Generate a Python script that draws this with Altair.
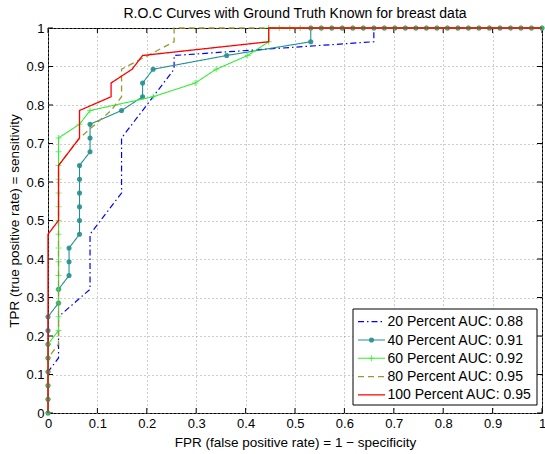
import altair as alt
import pandas as pd

FONT = "Liberation Sans"

ticks = [0, 0.1, 0.2, 0.3, 0.4, 0.5, 0.6, 0.7, 0.8, 0.9, 1]

names = ["20 Percent", "40 Percent", "60 Percent", "80 Percent", "100 Percent"]
auc = [0.88, 0.91, 0.92, 0.95, 0.95]
colors = ["#0000ff", "#238f8f", "#33ee33", "#999933", "#ff0000"]

# 20 percent (blue, dash-dot)
fpr20 = [0, 0, 0.0213, 0.0213, 0.0851, 0.0851, 0.1489, 0.1489, 0.2553, 0.2553, 0.6596, 0.6596, 1]
tpr20 = [0, 0.1071, 0.1429, 0.25, 0.3214, 0.4643, 0.5714, 0.7143, 0.8929, 0.9286, 0.9643, 1, 1]

# 40 percent (teal, markers)
fpr40 = [0, 0, 0, 0, 0, 0, 0, 0,
         0.0213, 0.0213,
         0.0426, 0.0426, 0.0426,
         0.0638, 0.0638, 0.0638, 0.0638, 0.0638, 0.0638,
         0.0851, 0.0851, 0.0851,
         0.1489, 0.1915, 0.1915, 0.2128, 0.3617, 0.5319,
         0.5319, 0.5532, 0.5745, 0.5957, 0.6170, 0.6383, 0.6596, 0.6809, 0.7021,
         0.7234, 0.7447, 0.7660, 0.7872, 0.8085, 0.8298, 0.8511, 0.8723, 0.8936,
         0.9149, 0.9362, 0.9574, 0.9787, 1]
tpr40 = [0, 0.0357, 0.0714, 0.1071, 0.1429, 0.1786, 0.2143, 0.25,
         0.2857, 0.3214,
         0.3571, 0.3929, 0.4286,
         0.4643, 0.5, 0.5357, 0.5714, 0.6071, 0.6429,
         0.6786, 0.7143, 0.75,
         0.7857, 0.8214, 0.8571, 0.8929, 0.9286, 0.9643,
         1, 1, 1, 1, 1, 1, 1, 1, 1,
         1, 1, 1, 1, 1, 1, 1, 1, 1,
         1, 1, 1, 1, 1]

# 60 percent (green, plus markers)
fpr60 = [0, 0, 0, 0, 0, 0,
         0.0213, 0.0213, 0.0213, 0.0213, 0.0213, 0.0213, 0.0213, 0.0213,
         0.0213, 0.0213, 0.0213, 0.0213, 0.0213, 0.0213, 0.0213,
         0.0638, 0.0851, 0.2128, 0.2979, 0.3404, 0.4043, 0.4468,
         0.4468, 0.4681, 0.4894, 0.5106, 0.5319, 0.5532, 0.5745, 0.5957, 0.6170,
         0.6383, 0.6596, 0.6809, 0.7021, 0.7234, 0.7447, 0.7660, 0.7872, 0.8085,
         0.8298, 0.8511, 0.8723, 0.8936, 0.9149, 0.9362, 0.9574, 0.9787, 1]
tpr60 = [0, 0.0357, 0.0714, 0.1071, 0.1429, 0.1786,
         0.2143, 0.25, 0.2857, 0.3214, 0.3571, 0.3929, 0.4286, 0.4643,
         0.5, 0.5357, 0.5714, 0.6071, 0.6429, 0.6786, 0.7143,
         0.75, 0.7857, 0.8214, 0.8571, 0.8929, 0.9286, 0.9643,
         1, 1, 1, 1, 1, 1, 1, 1, 1,
         1, 1, 1, 1, 1, 1, 1, 1, 1,
         1, 1, 1, 1, 1, 1, 1, 1, 1]

# 80 percent (olive, dashed)
fpr80 = [0, 0, 0.0213, 0.0213, 0.0426, 0.0638, 0.1277, 0.1489, 0.1489, 0.2553, 0.2553, 1]
tpr80 = [0, 0.1429, 0.1786, 0.6429, 0.6786, 0.7143, 0.7857, 0.8214, 0.8929, 0.9643, 1, 1]

# 100 percent (red, solid)
fpr100 = [0, 0, 0.0213, 0.0213, 0.0638, 0.0638, 0.1277, 0.1277, 0.1702, 0.1915, 0.4468, 0.4468, 1]
tpr100 = [0, 0.4643, 0.5, 0.6429, 0.7143, 0.7857, 0.8214, 0.8571, 0.8929, 0.9286, 0.9643, 1, 1]

series_x = [fpr20, fpr40, fpr60, fpr80, fpr100]
series_y = [tpr20, tpr40, tpr60, tpr80, tpr100]
dashes = [[6, 3, 1.5, 3], [1, 0], [1, 0], [6, 4], [1, 0]]
widths = [1.2, 1.1, 1.1, 1.3, 1.3]
markers = [None, "dot", "plus", None, None]

W, H = 494, 385
PLUS = "M-1,0L1,0M0,-1L0,1"
DOT_SIZE = 26
PLUS_SIZE = 36

xscale = alt.Scale(domain=[0, 1], nice=False, zero=False)
yscale = alt.Scale(domain=[0, 1], nice=False, zero=False)

common = dict(values=ticks, format="~g", grid=True, ticks=False, domain=False,
              labelFont=FONT, labelFontSize=13, labelColor="black",
              labelOverlap=False, labelFlush=False, labelBound=False,
              titleFont=FONT, titleFontSize=13.5, titleFontWeight="normal",
              titleColor="black",
              gridColor="#9a9a9a", gridDash=[1, 3], gridWidth=1)
xaxis = alt.Axis(title="FPR (false positive rate) = 1 \u2212 specificity",
                 labelPadding=4, titlePadding=5, **common)
yaxis = alt.Axis(title="TPR (true positive rate) = sensitivity",
                 labelPadding=4, titlePadding=4, **common)


def X(field):
    return alt.X(field, scale=xscale, axis=xaxis)


def Y(field):
    return alt.Y(field, scale=yscale, axis=yaxis)


tick_df = pd.DataFrame({"v": ticks})

base_axes = alt.Chart(tick_df).mark_rule(opacity=0).encode(x=X("v:Q"), y=Y("v:Q"))

layers = [base_axes]

# inward ticks (MATLAB style)
tx_bottom = alt.Chart(tick_df).mark_rule(color="black", strokeWidth=1).encode(
    x=X("v:Q"), y=alt.value(H), y2=alt.value(H - 5))
tx_top = alt.Chart(tick_df).mark_rule(color="black", strokeWidth=1).encode(
    x=X("v:Q"), y=alt.value(0), y2=alt.value(5))
ty_left = alt.Chart(tick_df).mark_rule(color="black", strokeWidth=1).encode(
    y=Y("v:Q"), x=alt.value(0), x2=alt.value(5))
ty_right = alt.Chart(tick_df).mark_rule(color="black", strokeWidth=1).encode(
    y=Y("v:Q"), x=alt.value(W), x2=alt.value(W - 5))
layers += [tx_bottom, tx_top, ty_left, ty_right]

for k in range(5):
    df = pd.DataFrame({"fpr": series_x[k], "tpr": series_y[k],
                       "i": list(range(len(series_x[k])))})
    line = alt.Chart(df).mark_line(color=colors[k], strokeWidth=widths[k],
                                   strokeDash=dashes[k], clip=False).encode(
        x=X("fpr:Q"), y=Y("tpr:Q"), order=alt.Order("i:Q"))
    layers.append(line)
    if markers[k] == "dot":
        pts = alt.Chart(df).mark_point(shape="circle", filled=True, size=DOT_SIZE,
                                       color=colors[k], opacity=0.9).encode(
            x=X("fpr:Q"), y=Y("tpr:Q"))
        layers.append(pts)
    elif markers[k] == "plus":
        pts = alt.Chart(df).mark_point(shape=PLUS, filled=False, size=PLUS_SIZE,
                                       color=colors[k], strokeWidth=1.1).encode(
            x=X("fpr:Q"), y=Y("tpr:Q"))
        layers.append(pts)

# legend box
LX0, LX1, LY0, LY1 = 305, 489, 281, 377
one = pd.DataFrame({"a": [0]})
box = alt.Chart(one).mark_rect(fill="white", stroke="black", strokeWidth=1).encode(
    x=alt.value(LX0), x2=alt.value(LX1), y=alt.value(LY0), y2=alt.value(LY1))
layers.append(box)
row_y0, row_dy = 293.7, 18.3
for k in range(5):
    yy = row_y0 + k * row_dy
    d = pd.DataFrame({"label": [f"{names[k]} AUC: {auc[k]:.2f}"]})
    samp = alt.Chart(d).mark_rule(color=colors[k], strokeWidth=widths[k],
                                  strokeDash=dashes[k]).encode(
        x=alt.value(310), x2=alt.value(337), y=alt.value(yy))
    layers.append(samp)
    if markers[k] == "dot":
        layers.append(alt.Chart(d).mark_point(shape="circle", filled=True, size=DOT_SIZE,
                                              color=colors[k], opacity=0.9).encode(
            x=alt.value(323.5), y=alt.value(yy)))
    elif markers[k] == "plus":
        layers.append(alt.Chart(d).mark_point(shape=PLUS, filled=False, size=PLUS_SIZE,
                                              color=colors[k], strokeWidth=1.1).encode(
            x=alt.value(323.5), y=alt.value(yy)))
    txt = alt.Chart(d).mark_text(align="left", baseline="middle", font=FONT,
                                 fontSize=14, color="black").encode(
        x=alt.value(339.5), y=alt.value(yy + 0.5), text="label:N")
    layers.append(txt)

chart = alt.layer(*layers).properties(
    width=W, height=H,
    padding={"left": 48, "top": 28, "right": 3, "bottom": 41},
    autosize=alt.AutoSizeParams(type="none"),
    title=alt.TitleParams("R.O.C Curves with Ground Truth Known for breast data",
                          font=FONT, fontSize=14, fontWeight="normal",
                          color="black", anchor="middle", offset=1),
    background="white",
).configure_view(stroke="black", strokeWidth=1).configure_axis(labelOverlap=False)

chart.save("out.html", embed_options={"renderer": "svg", "actions": False})
